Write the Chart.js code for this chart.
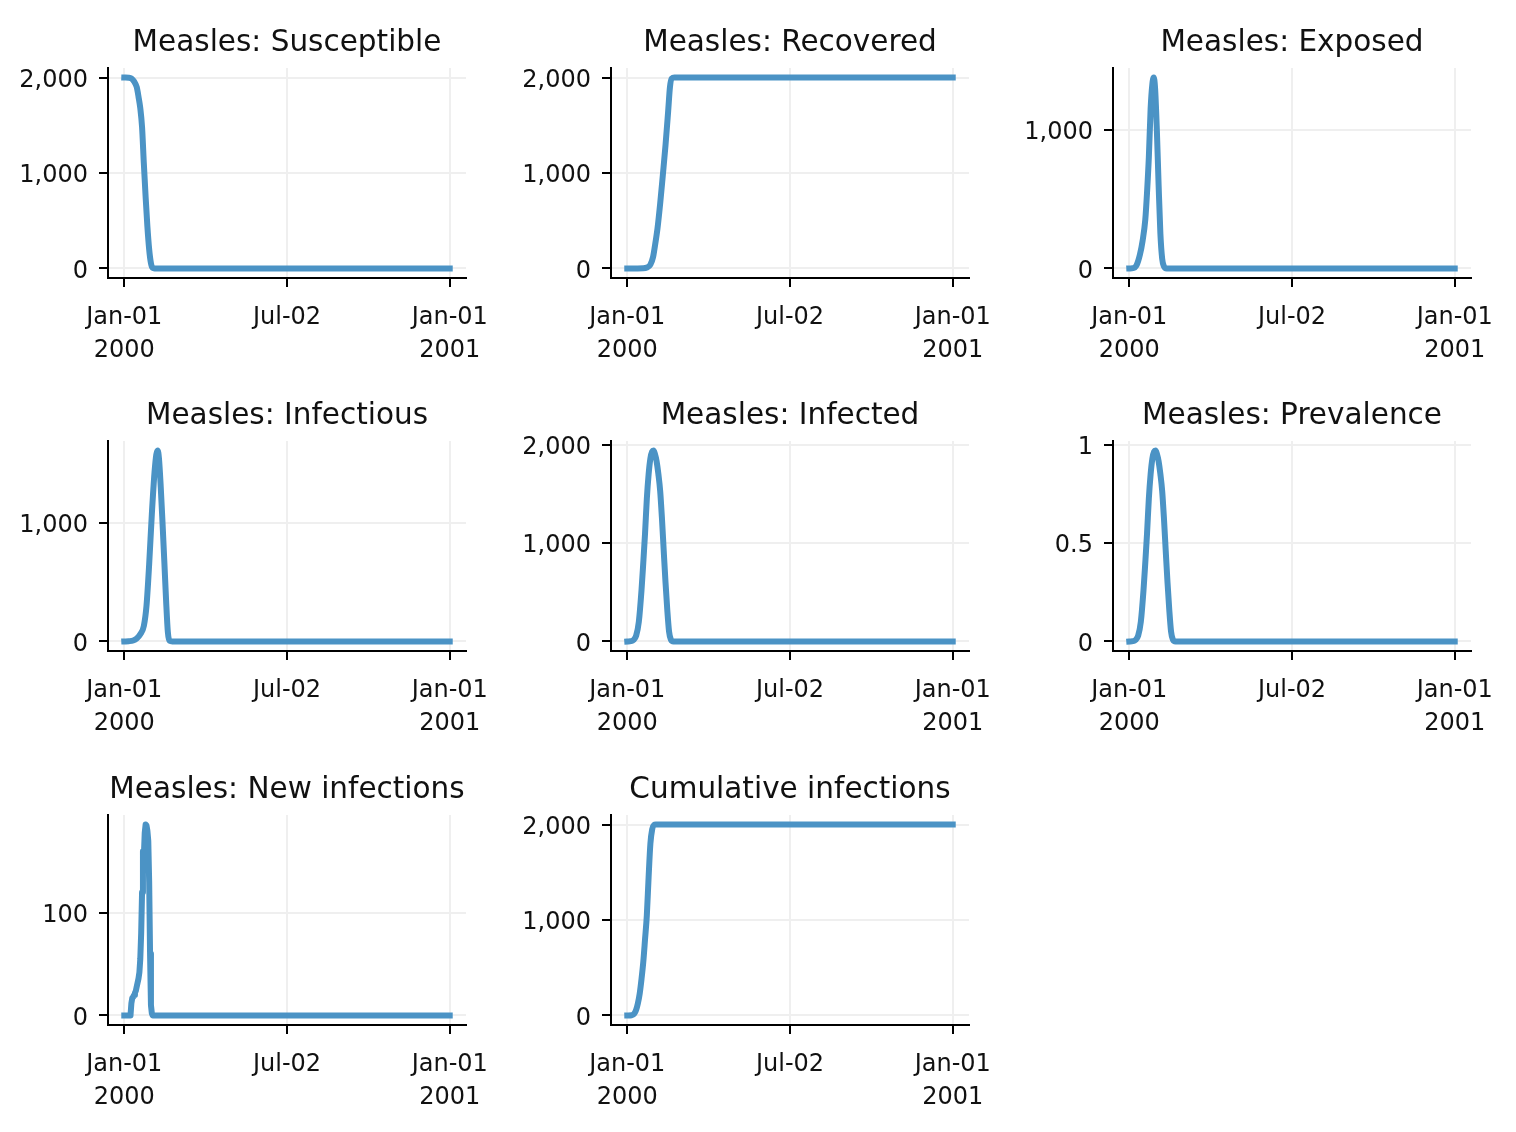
<!DOCTYPE html>
<html>
<head>
<meta charset="utf-8">
<script src="https://cdn.jsdelivr.net/npm/chart.js@4.4.1/dist/chart.umd.min.js"></script>
<style>
html,body{margin:0;padding:0;background:#ffffff;width:1516px;height:1132px;overflow:hidden;}
canvas.cell{position:absolute;}
</style>
</head>
<body>
<script>
// ---------- data (day offsets from 2000-01-01) ----------
const xTickDays = [0, 183, 366];
const xTickLabels = [["Jan-01", "2000"], ["Jul-02", ""], ["Jan-01", "2001"]];

const susceptibleDays   = [0, 5, 8, 11, 14, 16, 18, 20, 22, 24, 26, 28, 30, 32, 34, 366];
const susceptibleValues = [2000, 1998, 1990, 1960, 1900, 1800, 1680, 1480, 1100, 750, 440, 200, 55, 5, 0, 0];

const recoveredDays   = [0, 18, 22, 26, 29, 31, 34, 37, 40, 43, 46, 48, 50, 53, 366];
const recoveredValues = [0, 2, 10, 40, 120, 230, 420, 680, 980, 1290, 1650, 1900, 1990, 2000, 2000];

const exposedDays   = [0, 4, 8, 12, 15, 18, 20, 22, 24, 26, 27.5, 29, 31, 33, 35, 37, 39, 42, 366];
const exposedValues = [0, 2, 20, 100, 200, 350, 550, 800, 1150, 1330, 1375, 1300, 1000, 600, 250, 70, 15, 0, 0];

const infectiousDays   = [0, 5, 10, 14, 18, 22, 25, 28, 31, 34, 36, 37.5, 39, 41, 43, 45, 47, 49, 51, 54, 366];
const infectiousValues = [0, 2, 8, 25, 60, 130, 300, 650, 1070, 1420, 1570, 1605, 1540, 1300, 1000, 680, 350, 80, 5, 0, 0];

const infectedDays   = [0, 4, 7, 10, 13, 16, 18, 20, 22, 24, 26, 28, 29.5, 31, 33, 35, 37, 39, 41, 43, 45, 47, 49, 52, 366];
const infectedValues = [0, 3, 15, 60, 200, 520, 800, 1100, 1450, 1700, 1860, 1930, 1940, 1910, 1830, 1700, 1530, 1250, 920, 600, 320, 100, 20, 0, 0];

const prevalenceDays   = [0, 4, 7, 10, 13, 16, 18, 20, 22, 24, 26, 28, 29.5, 31, 33, 35, 37, 39, 41, 43, 45, 47, 49, 52, 366];
const prevalenceValues = [0, 0.0015, 0.0075, 0.03, 0.1, 0.26, 0.4, 0.55, 0.725, 0.85, 0.93, 0.965, 0.97, 0.955, 0.915, 0.85, 0.765, 0.625, 0.46, 0.3, 0.16, 0.05, 0.01, 0, 0];

const newInfDays   = [0, 7, 8, 9, 10, 11, 12, 13, 14, 15, 16, 17, 18, 19, 20, 21, 22, 23, 24, 25, 26, 27, 28, 29, 30, 31, 32, 366];
const newInfValues = [0, 0, 12, 17, 18, 20, 22, 24, 28, 32, 36, 42, 55, 80, 120, 160, 155, 178, 186, 185, 180, 170, 130, 60, 10, 2, 0, 0];

const cumulativeDays   = [0, 5, 8, 10, 12, 14, 16, 18, 20, 22, 24, 26, 28, 30, 32, 366];
const cumulativeValues = [0, 2, 20, 60, 130, 230, 380, 560, 800, 1050, 1450, 1800, 1950, 1995, 2000, 2000];

const panelTitles = ["Measles: Susceptible", "Measles: Recovered", "Measles: Exposed",
                     "Measles: Infectious", "Measles: Infected", "Measles: Prevalence",
                     "Measles: New infections", "Cumulative infections"];
const panelDays   = [susceptibleDays, recoveredDays, exposedDays, infectiousDays, infectedDays, prevalenceDays, newInfDays, cumulativeDays];
const panelValues = [susceptibleValues, recoveredValues, exposedValues, infectiousValues, infectedValues, prevalenceValues, newInfValues, cumulativeValues];
const panelYTicks = [[0, 1000, 2000], [0, 1000, 2000], [0, 1000],
                     [0, 1000], [0, 1000, 2000], [0, 0.5, 1],
                     [0, 100], [0, 1000, 2000]];
const panelSmooth = [true, true, true, true, true, true, false, true];

// ---------- layout ----------
const colLeft = [108, 611, 1113];
const rowTop = [67, 440, 814];
const axW = 358, axH = 211;
const leftW = 108, rightPad = 60, titleH = 50, bottomH = 100;
const FONT = "DejaVu Sans";
const lineColor = "#4b93c5";

panelTitles.forEach((title, i) => {
  const r = Math.floor(i / 3), c = i % 3;
  const cv = document.createElement("canvas");
  cv.className = "cell";
  const W = leftW + axW + rightPad, H = titleH + axH + bottomH;
  cv.width = W; cv.height = H;
  cv.style.width = W + "px"; cv.style.height = H + "px";
  cv.style.left = (colLeft[c] - leftW) + "px";
  cv.style.top = (rowTop[r] - titleH) + "px";
  document.body.appendChild(cv);

  const days = panelDays[i], vals = panelValues[i];
  const xlo = Math.min(...days), xhi = Math.max(...days);
  const ylo = Math.min(...vals), yhi = Math.max(...vals);
  const xm = 0.05 * (xhi - xlo), ym = 0.05 * (yhi - ylo);
  const yt = panelYTicks[i];

  new Chart(cv, {
    type: "line",
    data: {
      datasets: [{
        data: days.map((d, k) => ({x: d, y: vals[k]})),
        borderColor: lineColor,
        borderWidth: 6,
        pointRadius: 0,
        fill: false,
        cubicInterpolationMode: panelSmooth[i] ? "monotone" : "default",
        tension: 0,
        borderJoinStyle: "round",
        borderCapStyle: "square"
      }]
    },
    options: {
      responsive: false,
      animation: false,
      devicePixelRatio: 1,
      layout: {padding: {left: 0, right: rightPad, top: 0, bottom: 0}},
      plugins: {
        legend: {display: false},
        tooltip: {enabled: false},
        title: {
          display: true, text: title, fullSize: false, align: "center",
          color: "#111", font: {family: FONT, size: 29.5, weight: "normal", lineHeight: 1.2},
          padding: {top: 9, bottom: 6.6}
        }
      },
      scales: {
        x: {
          type: "linear",
          min: xlo - xm, max: xhi + xm,
          afterBuildTicks: s => { s.ticks = xTickDays.map(v => ({value: v})); },
          afterFit: s => { s.height = bottomH; },
          ticks: {
            autoSkip: false, maxRotation: 0, minRotation: 0,
            color: "#111", padding: 14,
            font: {family: FONT, size: 24, lineHeight: 1.38},
            callback: v => xTickLabels[xTickDays.indexOf(v)]
          },
          grid: {color: "#efefef", lineWidth: 2, tickColor: "#000", tickLength: 9, tickWidth: 2, drawTicks: true},
          border: {display: true, color: "#000", width: 2}
        },
        y: {
          type: "linear",
          min: ylo - ym, max: yhi + ym,
          afterBuildTicks: s => { s.ticks = yt.map(v => ({value: v})); },
          afterFit: s => { s.width = leftW; },
          ticks: {
            autoSkip: false, color: "#111", padding: 11, labelOffset: 3,
            font: {family: FONT, size: 24},
            callback: v => v.toLocaleString("en-US")
          },
          grid: {color: "#efefef", lineWidth: 2, tickColor: "#000", tickLength: 9, tickWidth: 2, drawTicks: true},
          border: {display: true, color: "#000", width: 2}
        }
      }
    }
  });
});
</script>
</body>
</html>
